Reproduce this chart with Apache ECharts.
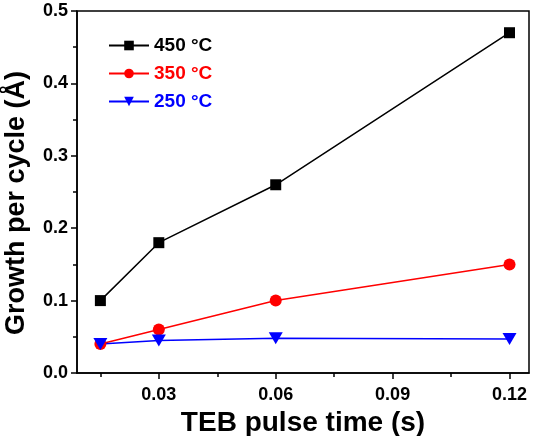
<!DOCTYPE html>
<html>
<head>
<meta charset="utf-8">
<script src="https://cdn.jsdelivr.net/npm/echarts@6/dist/echarts.min.js"></script>
<style>
html,body{margin:0;padding:0;background:#fff;}
#chart{width:534px;height:436px;}
</style>
</head>
<body>
<div id="chart"></div>
<script>
// 数据
var pulseTime = [0.015, 0.03, 0.06, 0.12];
var gpc450 = [0.10, 0.18, 0.26, 0.47];
var gpc350 = [0.04, 0.06, 0.10, 0.15];
var gpc250 = [0.04, 0.045, 0.048, 0.047];
var xMajorTicks = [0.03, 0.06, 0.09, 0.12];
var xMinorTicks = [0.015, 0.045, 0.075, 0.105];
var seriesNames = ['450 °C', '350 °C', '250 °C'];

function pairs(xs, ys){
  var out = [];
  for(var i = 0; i < xs.length; i++){
    out.push([xs[i], ys[i]]);
  }
  return out;
}

var font = 'Liberation Sans, Arial, sans-serif';
var chart = echarts.init(document.getElementById('chart'));

var option = {
  backgroundColor: '#fff',
  animation: false,
  grid: {
    left: 77, right: 5, top: 11, bottom: 63,
    outerBoundsMode: 'none', containLabel: false,
    show: true, borderColor: '#000', borderWidth: 1.5
  },
  legend: {
    orient: 'vertical',
    left: 103, top: 31,
    itemWidth: 40, itemHeight: 12, itemGap: 9,
    data: [
      {name: seriesNames[0], textStyle: {color: '#000'}},
      {name: seriesNames[1], textStyle: {color: '#ff0000'}},
      {name: seriesNames[2], textStyle: {color: '#0000ff'}}
    ],
    textStyle: {fontFamily: font, fontWeight: 'bold', fontSize: 19}
  },
  xAxis: [{
    type: 'value',
    min: 0.009, max: 0.125,
    name: 'TEB pulse time (s)',
    nameLocation: 'middle', nameGap: 36,
    nameTextStyle: {fontFamily: font, fontWeight: 'bold', fontSize: 28, color: '#000'},
    axisLine: {show: true, lineStyle: {color: '#000', width: 1.5}},
    axisTick: {show: true, customValues: xMajorTicks, length: 6, inside: false, lineStyle: {color: '#000', width: 1.5}},
    axisLabel: {customValues: xMajorTicks, margin: 13, fontFamily: font, fontWeight: 'bold', fontSize: 18, color: '#000',
      formatter: function(v){ return v.toFixed(2); }},
    splitLine: {show: false}
  }, {
    type: 'value',
    min: 0.009, max: 0.125,
    position: 'bottom',
    axisLine: {show: false},
    axisTick: {show: true, customValues: xMinorTicks, length: 4, lineStyle: {color: '#000', width: 1.5}},
    axisLabel: {show: false},
    splitLine: {show: false}
  }],
  yAxis: {
    type: 'value',
    min: 0, max: 0.5, interval: 0.1,
    name: 'Growth per cycle (Å)',
    nameLocation: 'middle', nameGap: 47,
    nameTextStyle: {fontFamily: font, fontWeight: 'bold', fontSize: 27, color: '#000', padding: [0, 22, 0, 0]},
    axisLine: {show: true, lineStyle: {color: '#000', width: 1.5}},
    axisTick: {show: true, length: 6, lineStyle: {color: '#000', width: 1.5}},
    minorTick: {show: true, splitNumber: 2, length: 4, lineStyle: {color: '#000', width: 1.5}},
    axisLabel: {margin: 9, fontFamily: font, fontWeight: 'bold', fontSize: 18, color: '#000',
      formatter: function(v){ return v.toFixed(1); }},
    splitLine: {show: false}
  },
  series: [{
    name: seriesNames[0], type: 'line',
    data: pairs(pulseTime, gpc450),
    symbol: 'rect', symbolSize: 11,
    lineStyle: {color: '#000', width: 1.5},
    itemStyle: {color: '#000'}
  }, {
    name: seriesNames[1], type: 'line',
    data: pairs(pulseTime, gpc350),
    symbol: 'circle', symbolSize: 12,
    lineStyle: {color: '#ff0000', width: 1.5},
    itemStyle: {color: '#ff0000'}
  }, {
    name: seriesNames[2], type: 'line',
    data: pairs(pulseTime, gpc250),
    symbol: 'triangle', symbolRotate: 180, symbolSize: [14, 12],
    lineStyle: {color: '#0000ff', width: 1.5},
    itemStyle: {color: '#0000ff'}
  }]
};
chart.setOption(option);
</script>
</body>
</html>
